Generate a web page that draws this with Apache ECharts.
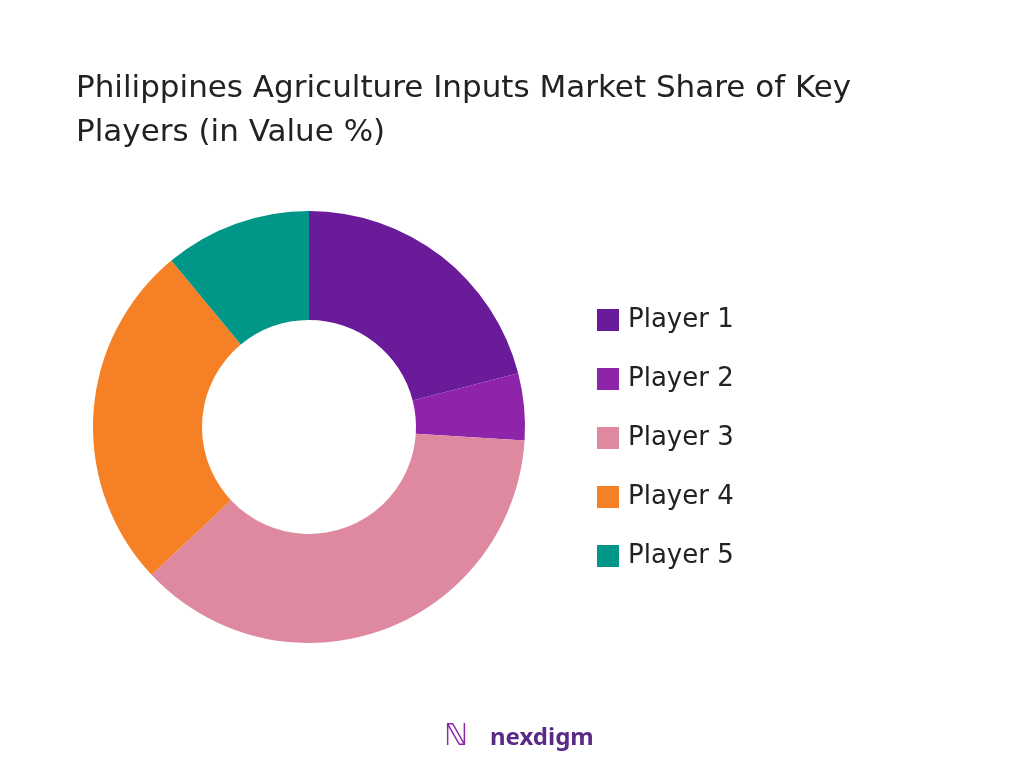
<!DOCTYPE html>
<html><head><meta charset="utf-8">
<script src="https://cdn.jsdelivr.net/npm/echarts@6/dist/echarts.min.js"></script>
<style>html,body{margin:0;padding:0;background:#fff}#c{width:1024px;height:768px}</style>
</head><body><div id="c"></div>
<script>
const categories = ['Player 1','Player 2','Player 3','Player 4','Player 5'];
const values = [21, 5, 37, 26, 11];
const colors = ['#6a1b9a','#8e24aa','#de89a0','#f58025','#009688'];
const chart = echarts.init(document.getElementById('c'));
chart.setOption({
  animation:false,
  title:{text:'Philippines Agriculture Inputs Market Share of Key\nPlayers (in Value %)',left:71,top:62,
    textStyle:{fontFamily:'DejaVu Sans',fontWeight:'normal',fontSize:31,color:'#222',lineHeight:44}},
  legend:{orient:'vertical',left:592,top:302,itemWidth:22,itemHeight:22,itemGap:33,icon:'rect',
    textStyle:{fontFamily:'DejaVu Sans',fontSize:26,color:'#222',padding:[0,0,0,4]},data:categories},
  graphic:[{type:'text',left:490,top:726,style:{text:'nexdigm',fontFamily:'Noto Sans',fontWeight:'bold',fontSize:24,fill:'#5b2a86'}},
    {type:'text',left:444,top:722,style:{text:'ℕ',fontFamily:'DejaVu Sans',fontSize:30,fill:'#8e24aa'}}],
  series:[{type:'pie',center:[309,427],radius:[107,216],startAngle:90,clockwise:true,
    label:{show:false},labelLine:{show:false},
    data:categories.map((n,i)=>({name:n,value:values[i],itemStyle:{color:colors[i]}}))}]
});
</script></body></html>
